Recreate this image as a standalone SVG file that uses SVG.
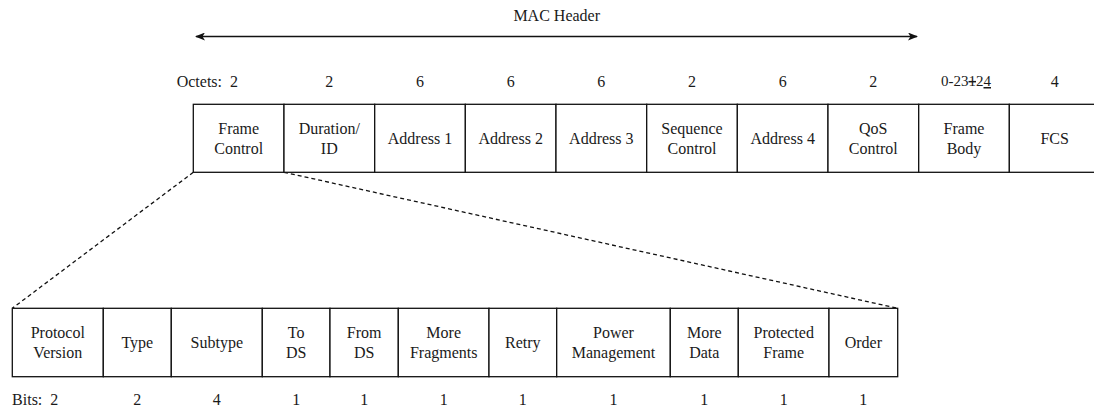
<svg xmlns="http://www.w3.org/2000/svg" width="1094" height="409" viewBox="0 0 1094 409">
<style>
text{font-family:'Liberation Serif','DejaVu Serif',serif;font-size:16px;fill:#1a1a1a;text-anchor:middle}
.b{fill:#fff;stroke:#111;stroke-width:1.3}
.d{stroke:#111;stroke-width:1.3;stroke-dasharray:4 3;fill:none}
.a{stroke:#111;stroke-width:1.4;fill:none}
</style>
<defs>
<marker id="st" viewBox="0 0 10 8" refX="9" refY="4" markerWidth="10" markerHeight="8" markerUnits="userSpaceOnUse" orient="auto-start-reverse">
<path d="M0,0 L10,4 L0,8 L2.5,4 z" fill="#111"/>
</marker>
</defs>
<rect width="1094" height="409" fill="#fff"/>
<text x="556.7" y="20.7">MAC Header</text>
<g id="connectors">
<line class="a" x1="196" y1="36.5" x2="917" y2="36.5" marker-start="url(#st)" marker-end="url(#st)"/>
<line class="d" x1="193.3" y1="172.3" x2="12.3" y2="308.3"/>
<line class="d" x1="284" y1="172.3" x2="897.7" y2="308.3"/>
</g>
<g id="octets">
<text x="238" y="87" style="text-anchor:end" xml:space="preserve">Octets:  2</text>
<text x="329.3" y="87">2</text>
<text x="420" y="87">6</text>
<text x="510.7" y="87">6</text>
<text x="601.3" y="87">6</text>
<text x="692" y="87">2</text>
<text x="782.7" y="87">6</text>
<text x="873.3" y="87">2</text>
<text x="966" y="86" style="font-size:15px">0-23<tspan style="text-decoration:line-through">1</tspan>2<tspan style="text-decoration:underline">4</tspan></text>
<text x="1054.7" y="87">4</text>
</g>
<g id="frame-control"><rect class="b" x="193.3" y="104.3" width="90.7" height="68"/><text x="238.7" y="134">Frame</text><text x="238.7" y="154">Control</text></g>
<g id="duration-id"><rect class="b" x="284" y="104.3" width="90.7" height="68"/><text x="329.3" y="134">Duration/</text><text x="329.3" y="154">ID</text></g>
<g id="address1"><rect class="b" x="374.7" y="104.3" width="90.7" height="68"/><text x="420" y="144">Address 1</text></g>
<g id="address2"><rect class="b" x="465.3" y="104.3" width="90.7" height="68"/><text x="510.7" y="144">Address 2</text></g>
<g id="address3"><rect class="b" x="556" y="104.3" width="90.7" height="68"/><text x="601.3" y="144">Address 3</text></g>
<g id="sequence-control"><rect class="b" x="646.7" y="104.3" width="90.7" height="68"/><text x="692" y="134">Sequence</text><text x="692" y="154">Control</text></g>
<g id="address4"><rect class="b" x="737.3" y="104.3" width="90.7" height="68"/><text x="782.7" y="144">Address 4</text></g>
<g id="qos-control"><rect class="b" x="828" y="104.3" width="90.7" height="68"/><text x="873.3" y="134">QoS</text><text x="873.3" y="154">Control</text></g>
<g id="frame-body"><rect class="b" x="918.7" y="104.3" width="90.7" height="68"/><text x="964" y="134">Frame</text><text x="964" y="154">Body</text></g>
<g id="fcs"><rect class="b" x="1009.3" y="104.3" width="90.7" height="68"/><text x="1054.7" y="144">FCS</text></g>
<g id="protocol-version"><rect class="b" x="12.3" y="308.3" width="91" height="68.4"/><text x="57.8" y="338.4">Protocol</text><text x="57.8" y="358.4">Version</text></g>
<g id="type"><rect class="b" x="103.3" y="308.3" width="68" height="68.4"/><text x="137.3" y="348.4">Type</text></g>
<g id="subtype"><rect class="b" x="171.3" y="308.3" width="91" height="68.4"/><text x="216.8" y="348.4">Subtype</text></g>
<g id="to-ds"><rect class="b" x="262.3" y="308.3" width="67.7" height="68.4"/><text x="296.2" y="338.4">To</text><text x="296.2" y="358.4">DS</text></g>
<g id="from-ds"><rect class="b" x="330" y="308.3" width="68.3" height="68.4"/><text x="364.2" y="338.4">From</text><text x="364.2" y="358.4">DS</text></g>
<g id="more-fragments"><rect class="b" x="398.3" y="308.3" width="90.7" height="68.4"/><text x="443.7" y="338.4">More</text><text x="443.7" y="358.4">Fragments</text></g>
<g id="retry"><rect class="b" x="489" y="308.3" width="67.7" height="68.4"/><text x="522.8" y="348.4">Retry</text></g>
<g id="power-management"><rect class="b" x="556.7" y="308.3" width="113.6" height="68.4"/><text x="613.5" y="338.4">Power</text><text x="613.5" y="358.4">Management</text></g>
<g id="more-data"><rect class="b" x="670.3" y="308.3" width="68" height="68.4"/><text x="704.3" y="338.4">More</text><text x="704.3" y="358.4">Data</text></g>
<g id="protected-frame"><rect class="b" x="738.3" y="308.3" width="90.7" height="68.4"/><text x="783.7" y="338.4">Protected</text><text x="783.7" y="358.4">Frame</text></g>
<g id="order"><rect class="b" x="829" y="308.3" width="68.7" height="68.4"/><text x="863.3" y="348.4">Order</text></g>
<g id="bits">
<text x="58.3" y="404.5" style="text-anchor:end" xml:space="preserve">Bits:  2</text>
<text x="137.3" y="404.5">2</text>
<text x="216.8" y="404.5">4</text>
<text x="296.2" y="404.5">1</text>
<text x="364.2" y="404.5">1</text>
<text x="443.7" y="404.5">1</text>
<text x="522.8" y="404.5">1</text>
<text x="613.5" y="404.5">1</text>
<text x="704.3" y="404.5">1</text>
<text x="783.7" y="404.5">1</text>
<text x="863.3" y="404.5">1</text>
</g>
</svg>
